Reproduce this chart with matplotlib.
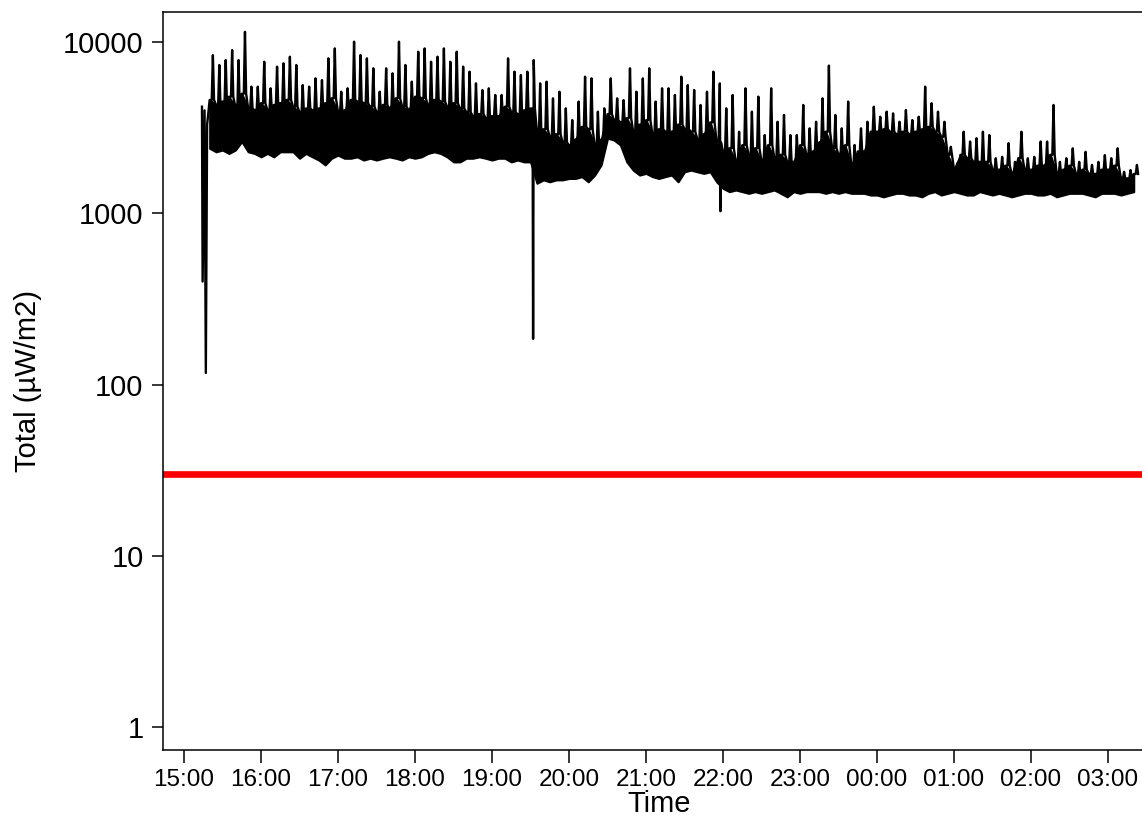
import matplotlib
matplotlib.use("Agg")
import matplotlib.pyplot as plt
import matplotlib.dates as mdates
import matplotlib.ticker as mticker
import numpy as np
import pandas as pd

plt.rcParams['font.family'] = ['Liberation Sans', 'DejaVu Sans']

# ------------------------- Data -------------------------
start = pd.Timestamp("2021-06-01 15:00")

# first minutes of the record (minutes after 15:00, value)
head_min = [14, 14.5, 16, 17, 18]
head_val = [4200, 400, 4000, 117, 3300]

# 5 minute bins: lower edge, top of the dense band, and peak of the noisy trace
bin_min = list(range(20, 745, 5))
peak = [8400, 7360, 7870, 9000, 7870, 11500, 5500, 5500, 7690, 5380,
        7200, 7530, 8230, 7360, 5620, 5500, 6150, 6010, 8050, 9200,
        5140, 5380, 10070, 8420, 8050, 7040, 5140, 7040, 6580, 10070,
        7360, 5880, 8800, 9200, 7690, 8230, 9200, 7690, 8800, 7200,
        6730, 5750, 5260, 5380, 4920, 4920, 8050, 6730, 6430, 6730,
        7870, 5750, 5880, 4700, 5140, 4110, 3510, 4500, 6290, 6150,
        3930, 4110, 6150, 4700, 4590, 7040, 5140, 6150, 7040, 4500,
        5380, 5380, 4920, 6290, 5620, 5260, 4300, 5140, 6730, 5750,
        4110, 4920, 3000, 5380, 3930, 4810, 2870, 5380, 3430, 3760,
        2870, 2870, 4300, 3140, 3430, 4700, 7300, 3760, 3140, 4500,
        2510, 3140, 3430, 4200, 3670, 3930, 3840, 3430, 4020, 3510,
        3670, 5500, 4400, 3930, 3430, 2450, 1960, 3000, 2630, 2750,
        3000, 2870, 2100, 2140, 2570, 2000, 3000, 2100, 2140, 2630,
        2630, 4300, 2000, 2100, 2400, 2000, 2290, 1920, 2000, 2190,
        2100, 2400, 1750, 1790, 1920]
band = [4600, 4300, 4500, 4800, 4200, 5000, 4100, 4000, 4400,
        4000, 4300, 4400, 4600, 4200, 3900, 4100, 4000, 4100, 4400, 4700, 3900, 4000, 4600,
        4500, 4400, 4200, 3900, 4300, 4100, 4700, 4200, 4000, 4800, 4700, 4300,
        4600, 4500, 4200, 4400, 4100, 3900, 3700, 3800, 3600, 3700, 3700, 4200,
        3900, 3800, 4000, 4100,
        3000, 3100, 2800, 2900, 2600, 2500, 2700, 3200, 3100, 2500,
        2700, 3800, 3500, 3400, 3600,
        3000, 3300, 3500, 2900, 3100, 3000, 3000, 3300, 3100, 3000, 2700, 2900, 3400,
        2600, 2300, 2400, 2000, 2500, 2200, 2400, 2000, 2500, 2100, 2200, 2000, 2000,
        2500, 2200, 2300, 2600, 3000, 2400, 2200, 2500, 1900, 2300, 2300,
        3000, 3000, 3100, 3000, 2900, 3000, 2900, 3000, 3100, 3200, 3000, 2800, 2200,
        1800, 2200, 2100, 2000,
        2000, 2000, 1800, 1800, 1900, 1700, 2100, 1800, 1800, 1900, 1900, 2200, 1700,
        1800, 1900, 1700, 1800, 1700, 1700, 1800, 1800, 1900, 1600, 1600, 1700]
low = [2400, 2290, 2345, 2240, 2345, 2630, 2290, 2240, 2140, 2240,
       2140, 2290, 2290, 2290, 2100, 2240, 2140, 2050, 1920, 2100,
       2190, 2100, 2100, 2140, 2050, 2100, 2050, 2100, 2140, 2100,
       2050, 2140, 2100, 2140, 2240, 2290, 2240, 2140, 2000, 2000,
       2100, 2100, 2140, 2100, 2050, 2100, 2100, 2000, 2050, 2000,
       2000, 1500, 1570, 1530, 1570, 1570, 1600, 1600, 1640, 1530,
       1675, 1920, 2750, 2685, 2510, 2000, 1790, 1675, 1713, 1640,
       1600, 1640, 1675, 1530, 1750, 1790, 1750, 1713, 1750, 1530,
       1400, 1340, 1370, 1340, 1310, 1340, 1310, 1340, 1370, 1310,
       1250, 1340, 1310, 1340, 1340, 1340, 1310, 1340, 1310, 1340,
       1310, 1310, 1310, 1280, 1280, 1250, 1280, 1310, 1310, 1280,
       1280, 1250, 1310, 1340, 1280, 1310, 1340, 1310, 1280, 1280,
       1340, 1310, 1280, 1310, 1280, 1250, 1280, 1310, 1310, 1280,
       1280, 1310, 1250, 1280, 1310, 1310, 1310, 1280, 1250, 1310,
       1310, 1310, 1280, 1310, 1340]

# short drops in the trace
dip_min = [272, 418]
dip_val = [185, 1030]

limit = 30  # red reference level

# ------------------------- Build trace -------------------------
band_top = np.maximum(band, low)
peak_top = np.maximum(peak, band_top)

t_all = list(head_min) + list(dip_min)
v_all = list(head_val) + list(dip_val)
for m, b, hi in zip(bin_min, band_top, peak_top):
    # narrow spike standing on the dense band
    t_all += [m, m + 1.6, m + 2.5, m + 3.4]
    v_all += [b, b, hi, b]
order = np.argsort(t_all, kind="stable")
t_all = np.array(t_all)[order]
v_all = np.array(v_all)[order]
times = start + pd.to_timedelta(t_all, unit="min")
bin_times = start + pd.to_timedelta(bin_min, unit="min")

# ------------------------- Plot -------------------------
fig = plt.figure(figsize=(11.42, 8.16), dpi=100)
ax = fig.add_axes([0.1427, 0.0809, 0.8687, 0.904])

ax.fill_between(bin_times, low, band_top, color="black", lw=1.5, edgecolor="black")
ax.plot(times, v_all, color="black", lw=1.7)
ax.axhline(limit, color="#ff0000", lw=4.8, solid_capstyle="round")

ax.set_yscale("log")
ax.set_ylim(0.734, 14950)
ax.set_xlim(start - pd.Timedelta(minutes=16.4), start + pd.Timedelta(minutes=756.6))

ax.yaxis.set_major_locator(mticker.FixedLocator([1, 10, 100, 1000, 10000]))
ax.yaxis.set_major_formatter(mticker.FormatStrFormatter("%g"))
ax.yaxis.set_minor_locator(mticker.NullLocator())
ax.xaxis.set_major_locator(mdates.HourLocator())
ax.xaxis.set_major_formatter(mdates.DateFormatter("%H:%M"))

ax.tick_params(axis="y", labelsize=21, length=8, width=1.1, pad=6)
ax.tick_params(axis="x", labelsize=17.5, length=9, width=1.1, pad=5)

for s in ["left", "bottom", "top"]:
    ax.spines[s].set_linewidth(1.1)
ax.spines["right"].set_visible(False)

ax.set_ylabel("Total (µW/m2)", fontsize=21)
ax.set_xlabel("Time", fontsize=21)
ax.yaxis.set_label_coords(-0.122, 0.5)
ax.xaxis.set_label_coords(0.5, -0.0545)

fig.savefig("out.png", dpi=100)
